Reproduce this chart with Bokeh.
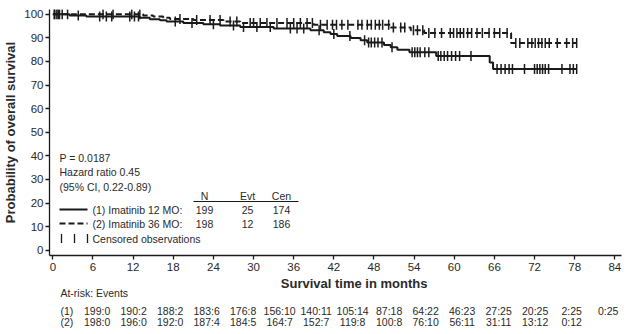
import numpy as np
from bokeh.plotting import figure
from bokeh.layouts import column
from bokeh.models import Label, Range1d, FixedTicker
from bokeh.core.properties import value
from bokeh.embed import file_html
from bokeh.resources import INLINE

# ---------------- data ----------------
x_ticks = [0, 6, 12, 18, 24, 30, 36, 42, 48, 54, 60, 66, 72, 78, 84]
y_ticks = [0, 10, 20, 30, 40, 50, 60, 70, 80, 90, 100]

# Group 1: Imatinib 12 MO (solid) - step times (months) and survival (%)
g1_times = [0, 2.5, 5, 13, 14.5, 16, 17, 19.5, 22.5, 25, 28, 33, 38.5, 40.5, 41.5,
            42.5, 44.5, 46, 47, 49.5, 50.5, 51.5, 53.3, 57.3, 65.3, 65.8]
g1_surv = [100, 99.5, 99.0, 98.5, 97.9, 97.4, 96.9, 96.3, 95.8, 95.2, 94.6, 93.9, 93.2,
           92.4, 91.6, 90.8, 89.9, 89.0, 88.0, 87.0, 86.0, 85.0, 83.9, 82.3, 79.5, 76.8]
g1_end = 78.3

# Group 2: Imatinib 36 MO (dashed)
g2_times = [0, 13.5, 15, 16.5, 17.5, 21, 25.5, 28, 39, 50.5, 53.5, 55.5, 68.5]
g2_surv = [100, 99.5, 99.0, 98.5, 98.0, 97.5, 96.9, 96.3, 95.5, 94.4, 93.2, 92.0, 87.8]
g2_end = 78.3

# censored observation times (months)
g1_censor = [0.3, 0.6, 1.0, 2.2, 3.8, 7.0, 8.0, 8.8, 11.5, 12.2, 12.8, 18.3, 20.8, 24.0,
             27.0, 28.5, 30.5, 32.5, 35.5, 36.5, 37.5, 39.8, 42.0, 44.4, 46.6, 47.2, 47.6,
             48.1, 48.6, 49.2, 50.7, 53.7, 54.1, 54.5, 54.9, 55.6, 56.2, 57.6, 58.0, 58.5,
             59.0, 59.6, 60.2, 60.8, 62.5, 66.4, 67.0, 67.6, 68.2, 68.7, 70.5, 72.0, 72.4,
             72.8, 73.2, 73.6, 74.1, 76.1, 77.3, 77.8, 78.3]
g2_censor = [0.2, 0.8, 1.4, 7.5, 9.0, 11.8, 13.0, 19.0, 21.5, 23.5, 25.0, 26.5, 27.5, 29.5,
             30.0, 31.0, 32.0, 33.5, 35.0, 36.0, 37.0, 38.0, 38.8, 40.0, 41.0, 41.8, 42.4,
             43.2, 44.1, 45.6, 46.2, 47.0, 47.6, 48.2, 48.8, 49.3, 50.2, 50.9, 52.0, 52.6,
             53.9, 54.5, 55.3, 56.2, 57.1, 58.1, 59.4, 59.9, 60.4, 60.9, 61.4, 62.0, 62.6,
             63.4, 64.2, 65.2, 66.0, 66.8, 67.9, 69.2, 69.8, 71.0, 71.6, 72.1, 72.6, 73.1,
             73.6, 74.2, 75.4, 76.8, 77.7, 78.3]

risk1 = ["199:0", "190:2", "188:2", "183:6", "176:8", "156:10", "140:11", "105:14",
         "87:18", "64:22", "46:23", "27:25", "20:25", "2:25", "0:25"]
risk2 = ["198:0", "196:0", "192:0", "187:4", "184:5", "164:7", "152:7", "119:8",
         "100:8", "76:10", "56:11", "31:11", "13:12", "0:12"]

group_labels = ["(1) Imatinib 12 MO:", "(2) Imatinib 36 MO:"]
table_header = ["N", "Evt", "Cen"]
table_rows = [["199", "25", "174"], ["198", "12", "186"]]
stats_text = ["P = 0.0187", "Hazard ratio 0.45", "(95% CI, 0.22-0.89)"]

# ---------------- layout constants ----------------
FONT = "Liberation Sans"
TXT = "#2a2a2a"
LINE = "#1a1a1a"

W = 629
HA = 276          # main plot height
HB = 334 - HA     # at-risk panel height
X0, X1 = -0.5, 85.0
Y0, Y1 = -2.2, 102.0
BL, BR, BT, BB = 49, 8, 9, HA - 255
fw, fh = W - BL - BR, HA - BT - BB


def px2x(px):
    return X0 + (px - BL) * (X1 - X0) / fw


def py2y(py):
    return Y1 - (py - BT) * (Y1 - Y0) / fh


def step_val(times, surv, t):
    idx = np.searchsorted(np.asarray(times), np.asarray(t), side="right") - 1
    return np.asarray(surv)[idx]


# ---------------- main plot ----------------
p = figure(width=W, height=HA, output_backend="svg", toolbar_location=None,
           x_range=Range1d(X0, X1), y_range=Range1d(Y0, Y1),
           min_border_left=BL, min_border_right=BR, min_border_top=BT, min_border_bottom=BB)
p.outline_line_color = None
p.grid.visible = False

for ax in (p.xaxis[0], p.yaxis[0]):
    ax.axis_line_color = LINE
    ax.axis_line_width = 1.3
    ax.major_tick_line_color = LINE
    ax.major_tick_line_width = 1.3
    ax.major_tick_in = 0
    ax.major_tick_out = 4
    ax.minor_tick_line_color = None
    ax.major_label_text_font = FONT
    ax.major_label_text_font_size = "11.5px"
    ax.major_label_text_color = TXT
p.xaxis[0].ticker = FixedTicker(ticks=x_ticks)
p.yaxis[0].ticker = FixedTicker(ticks=y_ticks)
p.xaxis[0].major_label_standoff = 3
p.yaxis[0].major_label_standoff = 2
p.yaxis[0].axis_label = "Probability of overall survival"
p.yaxis[0].axis_label_text_font = FONT
p.yaxis[0].axis_label_text_font_size = "13px"
p.yaxis[0].axis_label_text_font_style = "bold"
p.yaxis[0].axis_label_text_color = TXT
p.yaxis[0].axis_label_standoff = 3

# curves
for times, surv, end, dash in ((g1_times, g1_surv, g1_end, "solid"),
                               (g2_times, g2_surv, g2_end, "6 3")):
    xs = list(times) + [end]
    ys = list(surv) + [surv[-1]]
    p.step(xs, ys, mode="after", line_color=LINE, line_width=2, line_dash=dash)

# censor marks
for cens, times, surv in ((g1_censor, g1_times, g1_surv), (g2_censor, g2_times, g2_surv)):
    p.scatter(cens, step_val(times, surv, cens), marker="dash", angle=np.pi / 2,
              size=10, line_color=LINE, line_width=1.5, fill_color=None)


def label(px, py, text, size="10.5px", align="left"):
    p.add_layout(Label(x=px2x(px), y=py2y(py), text=text, text_font=FONT,
                       text_font_size=size, text_color=TXT, text_align=align,
                       text_baseline="middle"))


# stats
for i, t in enumerate(stats_text):
    label(59, 157 + i * 14.5, t)

# legend table
label(92, 209, group_labels[0])
label(92, 223, group_labels[1])
for j, h in enumerate(table_header):
    cx = [204, 247, 281][j]
    label(cx, 195, h, align="center")
    label(cx, 209, table_rows[0][j], align="center")
    label(cx, 223, table_rows[1][j], align="center")
p.segment(x0=[px2x(193)], y0=[py2y(201)], x1=[px2x(298)], y1=[py2y(201)],
          line_color=LINE, line_width=1)
p.segment(x0=[px2x(59)], y0=[py2y(209)], x1=[px2x(87)], y1=[py2y(209)],
          line_color=LINE, line_width=2)
p.segment(x0=[px2x(59)], y0=[py2y(223)], x1=[px2x(87)], y1=[py2y(223)],
          line_color=LINE, line_width=2, line_dash="6 3")
p.scatter([px2x(61), px2x(74), px2x(87)], [py2y(238)] * 3, marker="dash",
          angle=np.pi / 2, size=9, line_color=LINE, line_width=1.3)
label(92, 238, "Censored observations")

# ---------------- at-risk panel ----------------
q = figure(width=W, height=HB, output_backend="svg", toolbar_location=None,
           x_range=Range1d(px2x(0), px2x(W)), y_range=Range1d(334, HA),
           x_axis_type=None, y_axis_type=None, min_border=0)
q.outline_line_color = None
q.grid.visible = False

common = dict(text_font=value(FONT), text_color=TXT, text_baseline="middle")
q.text(x=[px2x((BL + W - BR) / 2)], y=[283], text=["Survival time in months"],
       text_align="center", text_font_size="13px", text_font_style="bold", **common)
q.text(x=[px2x(12)], y=[292], text=["At-risk: Events"], text_align="left",
       text_font_size="10.5px", **common)
q.text(x=[px2x(12), px2x(12)], y=[310, 321], text=["(1)", "(2)"], text_align="left",
       text_font_size="10.5px", **common)
q.text(x=x_ticks[:len(risk1)], y=[310] * len(risk1), text=risk1, text_align="center",
       text_font_size="10.5px", **common)
q.text(x=x_ticks[:len(risk2)], y=[321] * len(risk2), text=risk2, text_align="center",
       text_font_size="10.5px", **common)

layout = column(p, q, spacing=0)
open("out.html", "w").write(file_html(layout, INLINE))
